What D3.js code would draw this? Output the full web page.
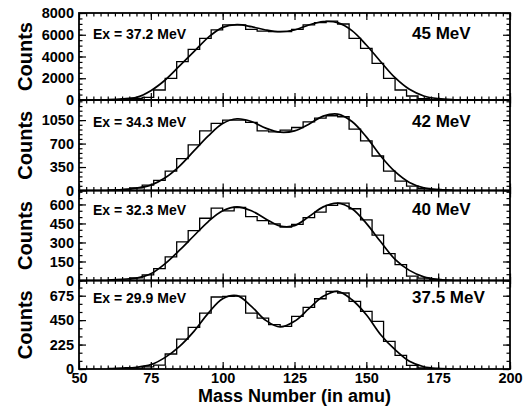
<!DOCTYPE html>
<html>
<head>
<meta charset="utf-8">
<script src="https://cdn.jsdelivr.net/npm/d3@7"></script>
<style>
  body { margin: 0; background: #fff; }
  text { font-family: "Liberation Sans", Arial, Helvetica, sans-serif; font-weight: bold; fill: #000; }
</style>
</head>
<body>
<div id="chart-area"></div>
<script>
// fragment mass histograms (4 amu bins, left edges)
var binStart = [68, 72, 76, 80, 84, 88, 92, 96, 100, 104, 108, 112, 116, 120, 124, 128, 132, 136, 140, 144, 148, 152, 156, 160, 164, 168, 172];
var binWidth = 4;

var hist45  = [150, 245, 920, 1990, 3520, 4660, 5670, 6440, 6900, 6900, 6500, 6340, 6280, 6280, 6500, 6900, 7110, 7260, 6990, 5670, 4750, 3370, 1990, 920, 370, 120, 60];
var hist42  = [40, 80, 150, 290, 475, 680, 890, 1000, 1050, 1050, 1015, 890, 875, 900, 940, 1025, 1080, 1115, 1100, 915, 740, 515, 290, 140, 65, 30, 15];
var hist40  = [20, 45, 93, 186, 305, 393, 491, 571, 550, 576, 504, 473, 446, 422, 443, 496, 539, 592, 611, 566, 478, 358, 212, 125, 35, 19, 8];
var hist375 = [0, 20, 35, 138, 276, 383, 515, 663, 669, 672, 515, 469, 408, 393, 485, 568, 647, 715, 700, 623, 531, 439, 255, 126, 34, 9, 0];

// fitted curves, every 5 amu
var fitMass = [60, 65, 70, 75, 80, 85, 90, 95, 100, 105, 110, 115, 120, 125, 130, 135, 140, 145, 150, 155, 160, 165, 170, 175, 180];
var fit45  = [30, 100, 245, 860, 1840, 3130, 4440, 5760, 6680, 6930, 6740, 6440, 6280, 6440, 6900, 7200, 7110, 6380, 5060, 3520, 2050, 980, 370, 120, 30];
var fit42  = [5, 15, 35, 80, 190, 365, 590, 815, 1000, 1070, 1030, 930, 870, 890, 990, 1110, 1140, 1030, 800, 515, 280, 120, 40, 12, 3];
var fit40  = [3, 10, 19, 53, 133, 239, 353, 465, 550, 581, 550, 486, 430, 433, 504, 581, 611, 566, 451, 305, 167, 80, 29, 8, 0];
var fit375 = [3, 8, 16, 40, 107, 209, 347, 515, 647, 675, 577, 448, 387, 439, 555, 669, 715, 638, 500, 316, 178, 71, 21, 5, 0];

var beamLabels = ["45 MeV", "42 MeV", "40 MeV", "37.5 MeV"];
var exLabels = ["Ex = 37.2 MeV", "Ex = 34.3 MeV", "Ex = 32.3 MeV", "Ex = 29.9 MeV"];

var yTicks45  = [0, 2000, 4000, 6000, 8000];
var yTicks42  = [0, 350, 700, 1050];
var yTicks40  = [0, 150, 300, 450, 600];
var yTicks375 = [0, 225, 450, 675];
var xTicks = [50, 75, 100, 125, 150, 175, 200];

var width = 526, height = 407;
var left = 79, right = 510;

var panels = [
  {top: 13,    bottom: 100,   max: 8000, minor: 500, ticks: yTicks45,  hist: hist45,  fit: fit45,  textY: 39},
  {top: 100,   bottom: 190.5, max: 1350, minor: 70,  ticks: yTicks42,  hist: hist42,  fit: fit42,  textY: 127},
  {top: 190.5, bottom: 280.5, max: 710,  minor: 50,  ticks: yTicks40,  hist: hist40,  fit: fit40,  textY: 215},
  {top: 280.5, bottom: 369,   max: 815,  minor: 75,  ticks: yTicks375, hist: hist375, fit: fit375, textY: 303}
];

var svg = d3.select("#chart-area").append("svg").attr("width", width).attr("height", height);
svg.append("rect").attr("width", width).attr("height", height).attr("fill", "#fff");

var x = d3.scaleLinear().domain([50, 200]).range([left, right]);
var xMinor = d3.range(50, 200.01, 2.5);
var fmt = d3.format("d");

panels.forEach(function(p, i) {
  var y = d3.scaleLinear().domain([0, p.max]).range([p.bottom, p.top]);
  var g = svg.append("g");

  g.append("clipPath").attr("id", "clip" + i)
    .append("rect").attr("x", left).attr("y", p.top).attr("width", right - left).attr("height", p.bottom - p.top);

  // histogram
  var pts = [[binStart[0] - binWidth, 0]];
  binStart.forEach(function(b, k) { pts.push([b, p.hist[k]]); });
  pts.push([binStart[binStart.length - 1] + binWidth, 0]);
  pts.push([binStart[binStart.length - 1] + 2 * binWidth, 0]);
  var stepLine = d3.line().x(function(d) { return x(d[0]); }).y(function(d) { return y(d[1]); }).curve(d3.curveStepAfter);
  g.append("path").datum(pts).attr("d", stepLine).attr("clip-path", "url(#clip" + i + ")")
    .attr("fill", "none").attr("stroke", "#000").attr("stroke-width", 1.3);

  // fit
  var fitLine = d3.line().x(function(d, k) { return x(fitMass[k]); }).y(function(d) { return y(d); }).curve(d3.curveCatmullRom.alpha(0.5));
  g.append("path").datum(p.fit).attr("d", fitLine).attr("clip-path", "url(#clip" + i + ")")
    .attr("fill", "none").attr("stroke", "#000").attr("stroke-width", 1.7);

  // x ticks, inward at bottom and top
  g.append("g").attr("transform", "translate(0," + p.bottom + ")")
    .call(d3.axisBottom(x).tickValues(xMinor).tickSize(-3.5).tickFormat(""));
  g.append("g").attr("transform", "translate(0," + p.top + ")")
    .call(d3.axisTop(x).tickValues(xMinor).tickSize(-3.5).tickFormat(""));
  var xb = g.append("g").attr("transform", "translate(0," + p.bottom + ")")
    .call(d3.axisBottom(x).tickValues(xTicks).tickSize(-7).tickPadding(4)
      .tickFormat(i == 3 ? fmt : ""));
  g.append("g").attr("transform", "translate(0," + p.top + ")")
    .call(d3.axisTop(x).tickValues(xTicks).tickSize(-7).tickFormat(""));
  xb.selectAll("text").attr("font-size", "14.5px");

  // y ticks, inward on both sides
  var yMinor = d3.range(0, p.max + 0.01, p.minor);
  g.append("g").attr("transform", "translate(" + left + ",0)")
    .call(d3.axisLeft(y).tickValues(yMinor).tickSize(-3.5).tickFormat(""));
  g.append("g").attr("transform", "translate(" + right + ",0)")
    .call(d3.axisRight(y).tickValues(yMinor).tickSize(-3.5).tickFormat(""));
  var yl = g.append("g").attr("transform", "translate(" + left + ",0)")
    .call(d3.axisLeft(y).tickValues(p.ticks).tickSize(-7).tickPadding(5).tickFormat(fmt));
  g.append("g").attr("transform", "translate(" + right + ",0)")
    .call(d3.axisRight(y).tickValues(p.ticks).tickSize(-7).tickFormat(""));
  yl.selectAll("text").attr("font-size", "14.5px");

  g.selectAll(".domain").remove();
  g.selectAll(".tick line").attr("stroke", "#000").attr("stroke-width", 1.2);
  g.selectAll(".tick text").attr("font-family", null);

  g.append("rect").attr("x", left).attr("y", p.top).attr("width", right - left).attr("height", p.bottom - p.top)
    .attr("fill", "none").attr("stroke", "#000").attr("stroke-width", 1.8);

  g.append("text").attr("x", 93).attr("y", p.textY).attr("font-size", "14px").text(exLabels[i]);
  g.append("text").attr("x", 412).attr("y", p.textY).attr("font-size", "17px").text(beamLabels[i]);

  g.append("text").attr("transform", "translate(32," + ((p.top + p.bottom) / 2) + ") rotate(-90)")
    .attr("text-anchor", "middle").attr("font-size", "20px").text("Counts");
});

svg.append("text").attr("x", (left + right) / 2).attr("y", 402).attr("text-anchor", "middle")
  .attr("font-size", "18px").text("Mass Number (in amu)");
</script>
</body>
</html>
